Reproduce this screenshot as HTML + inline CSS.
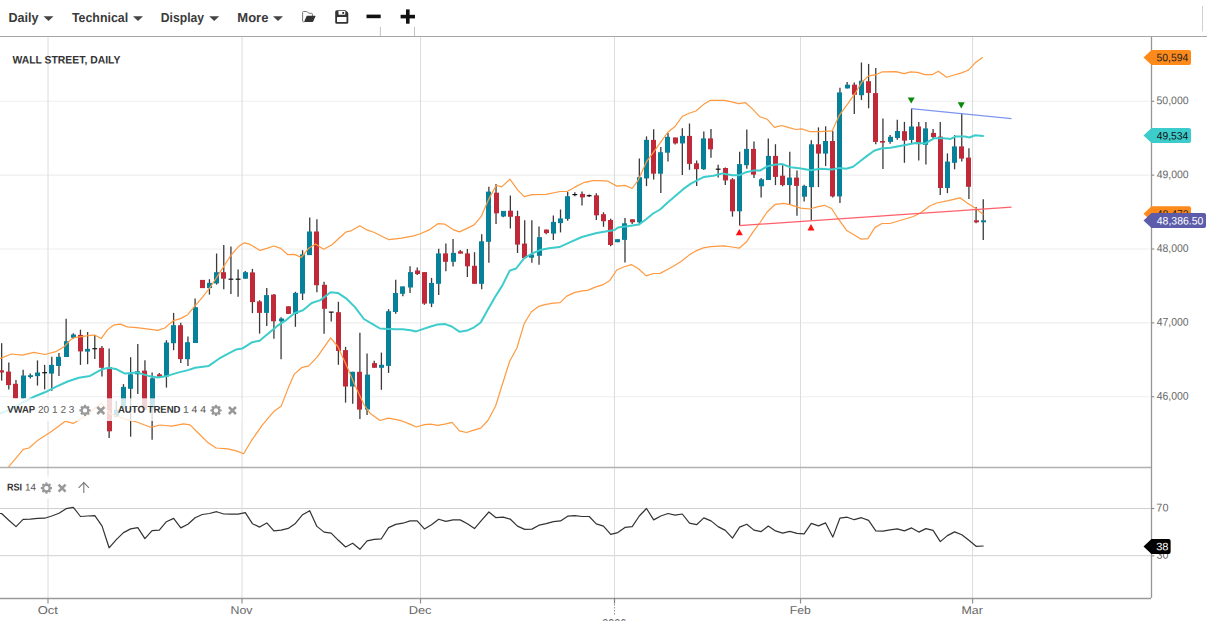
<!DOCTYPE html>
<html><head><meta charset="utf-8"><title>Wall Street Daily</title>
<style>html,body{margin:0;padding:0;background:#fff;}body{width:1207px;height:621px;overflow:hidden;position:relative;font-family:"Liberation Sans",sans-serif;}</style></head>
<body>
<svg width="1207" height="621" viewBox="0 0 1207 621" style="position:absolute;left:0;top:0">
<line x1="0" x2="1149.5" y1="101.3" y2="101.3" stroke="#eeeeee" stroke-width="1.1"/>
<line x1="0" x2="1149.5" y1="175.15" y2="175.15" stroke="#eeeeee" stroke-width="1.1"/>
<line x1="0" x2="1149.5" y1="249.0" y2="249.0" stroke="#eeeeee" stroke-width="1.1"/>
<line x1="0" x2="1149.5" y1="322.85" y2="322.85" stroke="#eeeeee" stroke-width="1.1"/>
<line x1="0" x2="1149.5" y1="396.7" y2="396.7" stroke="#eeeeee" stroke-width="1.1"/>
<line x1="0" x2="1151" y1="508.5" y2="508.5" stroke="#d0d0d0" stroke-width="1"/>
<line x1="0" x2="1151" y1="555.7" y2="555.7" stroke="#d0d0d0" stroke-width="1"/>
<line x1="48" x2="48" y1="37" y2="598" stroke="#dcdcdc" stroke-width="1"/>
<line x1="242" x2="242" y1="37" y2="598" stroke="#dcdcdc" stroke-width="1"/>
<line x1="420.5" x2="420.5" y1="37" y2="598" stroke="#dcdcdc" stroke-width="1"/>
<line x1="614.5" x2="614.5" y1="37" y2="598" stroke="#dcdcdc" stroke-width="1"/>
<line x1="800.5" x2="800.5" y1="37" y2="598" stroke="#dcdcdc" stroke-width="1"/>
<line x1="972.6" x2="972.6" y1="37" y2="598" stroke="#dcdcdc" stroke-width="1"/>
<g clip-path="url(#cp)">
<defs><clipPath id="cp"><rect x="0" y="37" width="1151" height="430"/></clipPath></defs>
<line x1="1.64" x2="1.64" y1="343.2" y2="380.6" stroke="#3a3a3a" stroke-width="1.3"/>
<rect x="-1" y="370.3" width="5" height="2.2" fill="#c02a38"/>
<line x1="8.81" x2="8.81" y1="362.4" y2="389.4" stroke="#3a3a3a" stroke-width="1.3"/>
<rect x="6" y="371.6" width="5" height="13.5" fill="#c02a38"/>
<line x1="15.97" x2="15.97" y1="380.0" y2="398.4" stroke="#3a3a3a" stroke-width="1.3"/>
<rect x="13" y="383.8" width="5" height="14.6" fill="#c02a38"/>
<line x1="23.14" x2="23.14" y1="369.8" y2="399.0" stroke="#3a3a3a" stroke-width="1.3"/>
<rect x="21" y="375.5" width="5" height="22.9" fill="#07819a"/>
<line x1="30.30" x2="30.30" y1="373.6" y2="378.4" stroke="#3a3a3a" stroke-width="1.3"/>
<rect x="28" y="375.2" width="5" height="1.8" fill="#07819a"/>
<line x1="37.47" x2="37.47" y1="360.4" y2="385.6" stroke="#3a3a3a" stroke-width="1.3"/>
<rect x="35" y="372.5" width="5" height="3.6" fill="#07819a"/>
<line x1="44.63" x2="44.63" y1="364.9" y2="389.4" stroke="#3a3a3a" stroke-width="1.3"/>
<line x1="42.23" x2="47.03" y1="372.7" y2="372.7" stroke="#111" stroke-width="1.2"/>
<line x1="51.80" x2="51.80" y1="356.8" y2="390.8" stroke="#3a3a3a" stroke-width="1.3"/>
<rect x="49" y="364.9" width="5" height="8.7" fill="#07819a"/>
<line x1="58.96" x2="58.96" y1="352.9" y2="376.1" stroke="#3a3a3a" stroke-width="1.3"/>
<rect x="56" y="356.8" width="5" height="9.2" fill="#07819a"/>
<line x1="66.13" x2="66.13" y1="318.7" y2="357.0" stroke="#3a3a3a" stroke-width="1.3"/>
<rect x="64" y="341.2" width="5" height="15.8" fill="#07819a"/>
<line x1="73.30" x2="73.30" y1="333.3" y2="338.7" stroke="#3a3a3a" stroke-width="1.3"/>
<rect x="71" y="334.5" width="5" height="3.3" fill="#07819a"/>
<line x1="80.46" x2="80.46" y1="329.7" y2="364.9" stroke="#3a3a3a" stroke-width="1.3"/>
<rect x="78" y="334.9" width="5" height="16.5" fill="#c02a38"/>
<line x1="87.62" x2="87.62" y1="332.0" y2="364.2" stroke="#3a3a3a" stroke-width="1.3"/>
<rect x="85" y="348.9" width="5" height="2.7" fill="#07819a"/>
<line x1="94.79" x2="94.79" y1="335.0" y2="359.0" stroke="#3a3a3a" stroke-width="1.3"/>
<line x1="92.39" x2="97.19" y1="348.7" y2="348.7" stroke="#111" stroke-width="1.2"/>
<line x1="101.95" x2="101.95" y1="346.0" y2="376.6" stroke="#3a3a3a" stroke-width="1.3"/>
<rect x="99" y="347.9" width="5" height="19.9" fill="#c02a38"/>
<line x1="109.12" x2="109.12" y1="348.6" y2="437.9" stroke="#3a3a3a" stroke-width="1.3"/>
<rect x="107" y="367.0" width="5" height="64.3" fill="#c02a38"/>
<line x1="116.28" x2="116.28" y1="401.0" y2="416.8" stroke="#3a3a3a" stroke-width="1.3"/>
<rect x="114" y="409.8" width="5" height="7.0" fill="#07819a"/>
<line x1="123.45" x2="123.45" y1="384.1" y2="410.0" stroke="#3a3a3a" stroke-width="1.3"/>
<rect x="121" y="386.9" width="5" height="21.7" fill="#07819a"/>
<line x1="130.62" x2="130.62" y1="357.2" y2="436.7" stroke="#3a3a3a" stroke-width="1.3"/>
<rect x="128" y="374.3" width="5" height="14.5" fill="#07819a"/>
<line x1="137.78" x2="137.78" y1="343.9" y2="393.9" stroke="#3a3a3a" stroke-width="1.3"/>
<rect x="135" y="371.3" width="5" height="3.0" fill="#07819a"/>
<line x1="144.94" x2="144.94" y1="360.3" y2="409.8" stroke="#3a3a3a" stroke-width="1.3"/>
<rect x="142" y="370.6" width="5" height="39.2" fill="#c02a38"/>
<line x1="152.11" x2="152.11" y1="372.4" y2="439.7" stroke="#3a3a3a" stroke-width="1.3"/>
<rect x="150" y="378.3" width="5" height="30.3" fill="#07819a"/>
<line x1="159.27" x2="159.27" y1="373.1" y2="377.1" stroke="#3a3a3a" stroke-width="1.3"/>
<rect x="157" y="374.3" width="5" height="2.3" fill="#c02a38"/>
<line x1="166.44" x2="166.44" y1="340.2" y2="387.6" stroke="#3a3a3a" stroke-width="1.3"/>
<rect x="164" y="342.5" width="5" height="34.1" fill="#07819a"/>
<line x1="173.61" x2="173.61" y1="312.9" y2="350.2" stroke="#3a3a3a" stroke-width="1.3"/>
<rect x="171" y="325.2" width="5" height="18.0" fill="#07819a"/>
<line x1="180.77" x2="180.77" y1="322.7" y2="363.1" stroke="#3a3a3a" stroke-width="1.3"/>
<rect x="178" y="325.2" width="5" height="33.9" fill="#c02a38"/>
<line x1="187.94" x2="187.94" y1="336.5" y2="366.0" stroke="#3a3a3a" stroke-width="1.3"/>
<rect x="185" y="342.2" width="5" height="17.0" fill="#07819a"/>
<line x1="195.10" x2="195.10" y1="298.6" y2="343.0" stroke="#3a3a3a" stroke-width="1.3"/>
<rect x="193" y="307.2" width="5" height="35.8" fill="#07819a"/>
<line x1="202.26" x2="202.26" y1="279.9" y2="288.1" stroke="#3a3a3a" stroke-width="1.3"/>
<rect x="200" y="279.9" width="5" height="8.2" fill="#c02a38"/>
<line x1="209.43" x2="209.43" y1="279.2" y2="294.6" stroke="#3a3a3a" stroke-width="1.3"/>
<rect x="207" y="282.9" width="5" height="5.2" fill="#07819a"/>
<line x1="216.59" x2="216.59" y1="253.5" y2="284.6" stroke="#3a3a3a" stroke-width="1.3"/>
<rect x="214" y="272.2" width="5" height="11.2" fill="#07819a"/>
<line x1="223.76" x2="223.76" y1="244.9" y2="289.3" stroke="#3a3a3a" stroke-width="1.3"/>
<rect x="221" y="272.2" width="5" height="6.5" fill="#c02a38"/>
<line x1="230.93" x2="230.93" y1="246.5" y2="293.9" stroke="#3a3a3a" stroke-width="1.3"/>
<line x1="228.53" x2="233.33" y1="279.2" y2="279.2" stroke="#111" stroke-width="1.2"/>
<line x1="238.09" x2="238.09" y1="269.4" y2="296.7" stroke="#3a3a3a" stroke-width="1.3"/>
<line x1="235.69" x2="240.49" y1="279.2" y2="279.2" stroke="#111" stroke-width="1.2"/>
<line x1="245.25" x2="245.25" y1="271.0" y2="278.7" stroke="#3a3a3a" stroke-width="1.3"/>
<rect x="243" y="272.2" width="5" height="6.5" fill="#07819a"/>
<line x1="252.42" x2="252.42" y1="268.9" y2="313.1" stroke="#3a3a3a" stroke-width="1.3"/>
<rect x="250" y="272.4" width="5" height="29.7" fill="#c02a38"/>
<line x1="259.58" x2="259.58" y1="300.2" y2="333.6" stroke="#3a3a3a" stroke-width="1.3"/>
<rect x="257" y="301.4" width="5" height="11.5" fill="#c02a38"/>
<line x1="266.75" x2="266.75" y1="288.1" y2="325.9" stroke="#3a3a3a" stroke-width="1.3"/>
<rect x="264" y="295.1" width="5" height="17.8" fill="#07819a"/>
<line x1="273.92" x2="273.92" y1="293.9" y2="338.8" stroke="#3a3a3a" stroke-width="1.3"/>
<rect x="271" y="294.6" width="5" height="26.7" fill="#c02a38"/>
<line x1="281.08" x2="281.08" y1="317.3" y2="359.3" stroke="#3a3a3a" stroke-width="1.3"/>
<rect x="279" y="318.5" width="5" height="2.8" fill="#07819a"/>
<line x1="288.25" x2="288.25" y1="306.3" y2="313.9" stroke="#3a3a3a" stroke-width="1.3"/>
<rect x="286" y="306.3" width="5" height="7.6" fill="#c02a38"/>
<line x1="295.41" x2="295.41" y1="291.8" y2="326.8" stroke="#3a3a3a" stroke-width="1.3"/>
<rect x="293" y="292.9" width="5" height="21.1" fill="#07819a"/>
<line x1="302.57" x2="302.57" y1="250.2" y2="300.0" stroke="#3a3a3a" stroke-width="1.3"/>
<rect x="300" y="254.4" width="5" height="39.2" fill="#07819a"/>
<line x1="309.74" x2="309.74" y1="217.5" y2="255.1" stroke="#3a3a3a" stroke-width="1.3"/>
<rect x="307" y="231.5" width="5" height="23.6" fill="#07819a"/>
<line x1="316.91" x2="316.91" y1="219.3" y2="292.2" stroke="#3a3a3a" stroke-width="1.3"/>
<rect x="314" y="231.5" width="5" height="53.7" fill="#c02a38"/>
<line x1="324.07" x2="324.07" y1="281.7" y2="333.8" stroke="#3a3a3a" stroke-width="1.3"/>
<rect x="322" y="284.8" width="5" height="24.0" fill="#c02a38"/>
<line x1="331.24" x2="331.24" y1="312.1" y2="321.6" stroke="#3a3a3a" stroke-width="1.3"/>
<line x1="328.84" x2="333.63" y1="312.1" y2="312.1" stroke="#111" stroke-width="1.2"/>
<line x1="338.40" x2="338.40" y1="301.8" y2="364.8" stroke="#3a3a3a" stroke-width="1.3"/>
<rect x="336" y="312.2" width="5" height="38.7" fill="#c02a38"/>
<line x1="345.56" x2="345.56" y1="346.8" y2="402.6" stroke="#3a3a3a" stroke-width="1.3"/>
<rect x="343" y="350.1" width="5" height="36.4" fill="#c02a38"/>
<line x1="352.73" x2="352.73" y1="371.8" y2="403.8" stroke="#3a3a3a" stroke-width="1.3"/>
<rect x="350" y="371.8" width="5" height="14.7" fill="#07819a"/>
<line x1="359.90" x2="359.90" y1="332.8" y2="419.0" stroke="#3a3a3a" stroke-width="1.3"/>
<rect x="357" y="371.8" width="5" height="37.8" fill="#c02a38"/>
<line x1="367.06" x2="367.06" y1="353.6" y2="415.0" stroke="#3a3a3a" stroke-width="1.3"/>
<rect x="365" y="374.6" width="5" height="35.0" fill="#07819a"/>
<line x1="374.23" x2="374.23" y1="360.8" y2="367.8" stroke="#3a3a3a" stroke-width="1.3"/>
<rect x="372" y="363.1" width="5" height="4.7" fill="#c02a38"/>
<line x1="381.39" x2="381.39" y1="352.6" y2="389.8" stroke="#3a3a3a" stroke-width="1.3"/>
<rect x="379" y="364.8" width="5" height="3.0" fill="#07819a"/>
<line x1="388.56" x2="388.56" y1="309.2" y2="372.9" stroke="#3a3a3a" stroke-width="1.3"/>
<rect x="386" y="311.2" width="5" height="54.7" fill="#07819a"/>
<line x1="395.72" x2="395.72" y1="279.8" y2="313.7" stroke="#3a3a3a" stroke-width="1.3"/>
<rect x="393" y="293.0" width="5" height="19.0" fill="#07819a"/>
<line x1="402.88" x2="402.88" y1="286.4" y2="296.2" stroke="#3a3a3a" stroke-width="1.3"/>
<rect x="400" y="286.4" width="5" height="7.4" fill="#07819a"/>
<line x1="410.05" x2="410.05" y1="266.3" y2="293.1" stroke="#3a3a3a" stroke-width="1.3"/>
<rect x="408" y="272.1" width="5" height="15.4" fill="#07819a"/>
<line x1="417.22" x2="417.22" y1="267.4" y2="275.1" stroke="#3a3a3a" stroke-width="1.3"/>
<rect x="415" y="270.5" width="5" height="3.5" fill="#c02a38"/>
<line x1="424.38" x2="424.38" y1="272.1" y2="304.8" stroke="#3a3a3a" stroke-width="1.3"/>
<rect x="422" y="272.1" width="5" height="31.5" fill="#c02a38"/>
<line x1="431.55" x2="431.55" y1="277.9" y2="307.1" stroke="#3a3a3a" stroke-width="1.3"/>
<rect x="429" y="282.9" width="5" height="20.7" fill="#07819a"/>
<line x1="438.71" x2="438.71" y1="248.7" y2="295.0" stroke="#3a3a3a" stroke-width="1.3"/>
<rect x="436" y="253.4" width="5" height="30.4" fill="#07819a"/>
<line x1="445.88" x2="445.88" y1="243.6" y2="271.2" stroke="#3a3a3a" stroke-width="1.3"/>
<rect x="443" y="253.4" width="5" height="8.4" fill="#c02a38"/>
<line x1="453.04" x2="453.04" y1="238.9" y2="266.5" stroke="#3a3a3a" stroke-width="1.3"/>
<rect x="451" y="252.9" width="5" height="8.9" fill="#07819a"/>
<line x1="460.21" x2="460.21" y1="250.1" y2="253.6" stroke="#3a3a3a" stroke-width="1.3"/>
<rect x="458" y="251.3" width="5" height="2.3" fill="#c02a38"/>
<line x1="467.37" x2="467.37" y1="249.0" y2="277.0" stroke="#3a3a3a" stroke-width="1.3"/>
<rect x="465" y="253.4" width="5" height="12.9" fill="#c02a38"/>
<line x1="474.54" x2="474.54" y1="252.2" y2="283.8" stroke="#3a3a3a" stroke-width="1.3"/>
<rect x="472" y="265.8" width="5" height="18.0" fill="#c02a38"/>
<line x1="481.70" x2="481.70" y1="234.3" y2="289.2" stroke="#3a3a3a" stroke-width="1.3"/>
<rect x="479" y="241.3" width="5" height="42.5" fill="#07819a"/>
<line x1="488.87" x2="488.87" y1="186.8" y2="262.8" stroke="#3a3a3a" stroke-width="1.3"/>
<rect x="486" y="191.6" width="5" height="50.2" fill="#07819a"/>
<line x1="496.03" x2="496.03" y1="184.0" y2="223.9" stroke="#3a3a3a" stroke-width="1.3"/>
<rect x="494" y="192.7" width="5" height="20.6" fill="#c02a38"/>
<line x1="503.19" x2="503.19" y1="210.9" y2="217.2" stroke="#3a3a3a" stroke-width="1.3"/>
<rect x="501" y="210.9" width="5" height="5.6" fill="#07819a"/>
<line x1="510.36" x2="510.36" y1="195.5" y2="228.5" stroke="#3a3a3a" stroke-width="1.3"/>
<rect x="508" y="210.7" width="5" height="6.1" fill="#c02a38"/>
<line x1="517.52" x2="517.52" y1="210.7" y2="253.0" stroke="#3a3a3a" stroke-width="1.3"/>
<rect x="515" y="216.1" width="5" height="28.5" fill="#c02a38"/>
<line x1="524.69" x2="524.69" y1="220.3" y2="258.1" stroke="#3a3a3a" stroke-width="1.3"/>
<rect x="522" y="243.6" width="5" height="14.5" fill="#c02a38"/>
<line x1="531.86" x2="531.86" y1="220.3" y2="262.8" stroke="#3a3a3a" stroke-width="1.3"/>
<rect x="529" y="254.6" width="5" height="3.1" fill="#07819a"/>
<line x1="539.02" x2="539.02" y1="226.6" y2="264.7" stroke="#3a3a3a" stroke-width="1.3"/>
<rect x="537" y="237.1" width="5" height="18.7" fill="#07819a"/>
<line x1="546.18" x2="546.18" y1="229.6" y2="234.3" stroke="#3a3a3a" stroke-width="1.3"/>
<rect x="544" y="229.6" width="5" height="3.5" fill="#c02a38"/>
<line x1="553.35" x2="553.35" y1="215.4" y2="239.9" stroke="#3a3a3a" stroke-width="1.3"/>
<rect x="551" y="221.9" width="5" height="11.7" fill="#07819a"/>
<line x1="560.51" x2="560.51" y1="209.5" y2="232.4" stroke="#3a3a3a" stroke-width="1.3"/>
<rect x="558" y="218.4" width="5" height="4.7" fill="#07819a"/>
<line x1="567.68" x2="567.68" y1="192.0" y2="220.7" stroke="#3a3a3a" stroke-width="1.3"/>
<rect x="565" y="196.2" width="5" height="22.7" fill="#07819a"/>
<line x1="574.84" x2="574.84" y1="192.2" y2="196.2" stroke="#3a3a3a" stroke-width="1.3"/>
<line x1="572.44" x2="577.24" y1="194.6" y2="194.6" stroke="#111" stroke-width="1.2"/>
<line x1="582.01" x2="582.01" y1="191.5" y2="205.6" stroke="#3a3a3a" stroke-width="1.3"/>
<rect x="580" y="193.9" width="5" height="3.5" fill="#c02a38"/>
<line x1="589.17" x2="589.17" y1="194.6" y2="196.9" stroke="#3a3a3a" stroke-width="1.3"/>
<line x1="586.77" x2="591.57" y1="195.7" y2="195.7" stroke="#111" stroke-width="1.2"/>
<line x1="596.34" x2="596.34" y1="193.2" y2="220.1" stroke="#3a3a3a" stroke-width="1.3"/>
<rect x="594" y="195.3" width="5" height="20.0" fill="#c02a38"/>
<line x1="603.50" x2="603.50" y1="212.3" y2="226.8" stroke="#3a3a3a" stroke-width="1.3"/>
<rect x="601" y="214.2" width="5" height="7.0" fill="#c02a38"/>
<line x1="610.67" x2="610.67" y1="218.8" y2="246.2" stroke="#3a3a3a" stroke-width="1.3"/>
<rect x="608" y="220.0" width="5" height="25.0" fill="#c02a38"/>
<line x1="617.83" x2="617.83" y1="239.2" y2="242.2" stroke="#3a3a3a" stroke-width="1.3"/>
<rect x="615" y="239.2" width="5" height="3.0" fill="#07819a"/>
<line x1="625.00" x2="625.00" y1="218.1" y2="262.5" stroke="#3a3a3a" stroke-width="1.3"/>
<rect x="622" y="223.3" width="5" height="16.6" fill="#07819a"/>
<line x1="632.16" x2="632.16" y1="219.3" y2="224.0" stroke="#3a3a3a" stroke-width="1.3"/>
<rect x="630" y="219.3" width="5" height="3.0" fill="#c02a38"/>
<line x1="639.33" x2="639.33" y1="158.6" y2="224.0" stroke="#3a3a3a" stroke-width="1.3"/>
<rect x="637" y="177.2" width="5" height="45.1" fill="#07819a"/>
<line x1="646.50" x2="646.50" y1="136.4" y2="186.1" stroke="#3a3a3a" stroke-width="1.3"/>
<rect x="644" y="139.9" width="5" height="38.5" fill="#07819a"/>
<line x1="653.66" x2="653.66" y1="129.3" y2="179.6" stroke="#3a3a3a" stroke-width="1.3"/>
<rect x="651" y="139.9" width="5" height="33.8" fill="#c02a38"/>
<line x1="660.82" x2="660.82" y1="146.9" y2="192.9" stroke="#3a3a3a" stroke-width="1.3"/>
<rect x="658" y="152.2" width="5" height="21.5" fill="#07819a"/>
<line x1="667.99" x2="667.99" y1="132.9" y2="161.6" stroke="#3a3a3a" stroke-width="1.3"/>
<rect x="665" y="136.8" width="5" height="15.9" fill="#07819a"/>
<line x1="675.15" x2="675.15" y1="137.5" y2="144.5" stroke="#3a3a3a" stroke-width="1.3"/>
<rect x="673" y="137.5" width="5" height="5.9" fill="#c02a38"/>
<line x1="682.32" x2="682.32" y1="128.2" y2="174.9" stroke="#3a3a3a" stroke-width="1.3"/>
<rect x="680" y="135.9" width="5" height="7.5" fill="#07819a"/>
<line x1="689.49" x2="689.49" y1="123.5" y2="169.8" stroke="#3a3a3a" stroke-width="1.3"/>
<rect x="687" y="135.9" width="5" height="28.0" fill="#c02a38"/>
<line x1="696.65" x2="696.65" y1="160.4" y2="186.1" stroke="#3a3a3a" stroke-width="1.3"/>
<rect x="694" y="163.3" width="5" height="5.9" fill="#c02a38"/>
<line x1="703.81" x2="703.81" y1="131.4" y2="169.9" stroke="#3a3a3a" stroke-width="1.3"/>
<rect x="701" y="138.4" width="5" height="30.8" fill="#07819a"/>
<line x1="710.98" x2="710.98" y1="129.0" y2="157.8" stroke="#3a3a3a" stroke-width="1.3"/>
<rect x="708" y="138.4" width="5" height="10.9" fill="#c02a38"/>
<line x1="718.14" x2="718.14" y1="164.8" y2="177.6" stroke="#3a3a3a" stroke-width="1.3"/>
<line x1="715.75" x2="720.54" y1="169.2" y2="169.2" stroke="#111" stroke-width="1.2"/>
<line x1="725.31" x2="725.31" y1="167.6" y2="185.1" stroke="#3a3a3a" stroke-width="1.3"/>
<rect x="723" y="168.0" width="5" height="12.4" fill="#c02a38"/>
<line x1="732.47" x2="732.47" y1="178.1" y2="216.6" stroke="#3a3a3a" stroke-width="1.3"/>
<rect x="730" y="179.3" width="5" height="32.0" fill="#c02a38"/>
<line x1="739.64" x2="739.64" y1="151.7" y2="225.3" stroke="#3a3a3a" stroke-width="1.3"/>
<rect x="737" y="164.1" width="5" height="47.2" fill="#07819a"/>
<line x1="746.80" x2="746.80" y1="129.5" y2="168.7" stroke="#3a3a3a" stroke-width="1.3"/>
<rect x="744" y="148.9" width="5" height="16.3" fill="#07819a"/>
<line x1="753.97" x2="753.97" y1="141.4" y2="178.1" stroke="#3a3a3a" stroke-width="1.3"/>
<rect x="751" y="148.9" width="5" height="25.7" fill="#c02a38"/>
<line x1="761.13" x2="761.13" y1="178.1" y2="197.5" stroke="#3a3a3a" stroke-width="1.3"/>
<rect x="759" y="179.3" width="5" height="7.0" fill="#07819a"/>
<line x1="768.30" x2="768.30" y1="138.4" y2="180.0" stroke="#3a3a3a" stroke-width="1.3"/>
<rect x="766" y="155.9" width="5" height="24.1" fill="#07819a"/>
<line x1="775.46" x2="775.46" y1="144.2" y2="185.1" stroke="#3a3a3a" stroke-width="1.3"/>
<rect x="773" y="155.9" width="5" height="21.0" fill="#c02a38"/>
<line x1="782.63" x2="782.63" y1="165.2" y2="186.3" stroke="#3a3a3a" stroke-width="1.3"/>
<rect x="780" y="175.7" width="5" height="9.4" fill="#c02a38"/>
<line x1="789.79" x2="789.79" y1="151.7" y2="205.0" stroke="#3a3a3a" stroke-width="1.3"/>
<rect x="787" y="177.6" width="5" height="7.5" fill="#07819a"/>
<line x1="796.96" x2="796.96" y1="170.5" y2="215.7" stroke="#3a3a3a" stroke-width="1.3"/>
<rect x="794" y="177.6" width="5" height="8.3" fill="#c02a38"/>
<line x1="804.12" x2="804.12" y1="184.8" y2="201.4" stroke="#3a3a3a" stroke-width="1.3"/>
<rect x="802" y="185.9" width="5" height="10.8" fill="#07819a"/>
<line x1="811.29" x2="811.29" y1="140.3" y2="220.3" stroke="#3a3a3a" stroke-width="1.3"/>
<rect x="809" y="144.3" width="5" height="42.8" fill="#07819a"/>
<line x1="818.45" x2="818.45" y1="127.4" y2="187.1" stroke="#3a3a3a" stroke-width="1.3"/>
<rect x="816" y="144.3" width="5" height="9.3" fill="#c02a38"/>
<line x1="825.62" x2="825.62" y1="126.3" y2="166.1" stroke="#3a3a3a" stroke-width="1.3"/>
<rect x="823" y="141.0" width="5" height="12.6" fill="#07819a"/>
<line x1="832.78" x2="832.78" y1="130.9" y2="197.5" stroke="#3a3a3a" stroke-width="1.3"/>
<rect x="830" y="141.0" width="5" height="55.4" fill="#c02a38"/>
<line x1="839.95" x2="839.95" y1="87.7" y2="203.1" stroke="#3a3a3a" stroke-width="1.3"/>
<rect x="837" y="92.4" width="5" height="104.0" fill="#07819a"/>
<line x1="847.12" x2="847.12" y1="81.9" y2="88.4" stroke="#3a3a3a" stroke-width="1.3"/>
<rect x="845" y="84.7" width="5" height="3.7" fill="#07819a"/>
<line x1="854.28" x2="854.28" y1="82.6" y2="114.1" stroke="#3a3a3a" stroke-width="1.3"/>
<rect x="852" y="84.7" width="5" height="10.0" fill="#c02a38"/>
<line x1="861.44" x2="861.44" y1="62.5" y2="99.9" stroke="#3a3a3a" stroke-width="1.3"/>
<rect x="859" y="80.7" width="5" height="14.5" fill="#07819a"/>
<line x1="868.61" x2="868.61" y1="63.9" y2="108.3" stroke="#3a3a3a" stroke-width="1.3"/>
<rect x="866" y="81.2" width="5" height="11.7" fill="#c02a38"/>
<line x1="875.77" x2="875.77" y1="67.9" y2="144.3" stroke="#3a3a3a" stroke-width="1.3"/>
<rect x="873" y="93.1" width="5" height="48.8" fill="#c02a38"/>
<line x1="882.94" x2="882.94" y1="118.6" y2="169.0" stroke="#3a3a3a" stroke-width="1.3"/>
<rect x="880" y="141.0" width="5" height="1.6" fill="#c02a38"/>
<line x1="890.10" x2="890.10" y1="134.9" y2="143.8" stroke="#3a3a3a" stroke-width="1.3"/>
<rect x="888" y="136.8" width="5" height="5.1" fill="#07819a"/>
<line x1="897.27" x2="897.27" y1="119.7" y2="139.7" stroke="#3a3a3a" stroke-width="1.3"/>
<rect x="895" y="131.0" width="5" height="7.0" fill="#07819a"/>
<line x1="904.43" x2="904.43" y1="121.9" y2="162.8" stroke="#3a3a3a" stroke-width="1.3"/>
<rect x="902" y="131.2" width="5" height="9.4" fill="#c02a38"/>
<line x1="911.60" x2="911.60" y1="108.6" y2="143.6" stroke="#3a3a3a" stroke-width="1.3"/>
<rect x="909" y="126.5" width="5" height="13.4" fill="#07819a"/>
<line x1="918.76" x2="918.76" y1="121.9" y2="160.4" stroke="#3a3a3a" stroke-width="1.3"/>
<rect x="916" y="126.5" width="5" height="17.6" fill="#c02a38"/>
<line x1="925.93" x2="925.93" y1="121.9" y2="164.6" stroke="#3a3a3a" stroke-width="1.3"/>
<rect x="923" y="128.4" width="5" height="16.4" fill="#07819a"/>
<line x1="933.09" x2="933.09" y1="128.9" y2="138.2" stroke="#3a3a3a" stroke-width="1.3"/>
<rect x="931" y="132.9" width="5" height="4.2" fill="#c02a38"/>
<line x1="940.26" x2="940.26" y1="121.9" y2="195.0" stroke="#3a3a3a" stroke-width="1.3"/>
<rect x="938" y="136.6" width="5" height="51.4" fill="#c02a38"/>
<line x1="947.42" x2="947.42" y1="153.4" y2="193.1" stroke="#3a3a3a" stroke-width="1.3"/>
<rect x="945" y="161.6" width="5" height="26.4" fill="#07819a"/>
<line x1="954.59" x2="954.59" y1="135.2" y2="169.3" stroke="#3a3a3a" stroke-width="1.3"/>
<rect x="952" y="146.4" width="5" height="16.4" fill="#07819a"/>
<line x1="961.75" x2="961.75" y1="113.2" y2="161.6" stroke="#3a3a3a" stroke-width="1.3"/>
<rect x="959" y="146.4" width="5" height="12.2" fill="#c02a38"/>
<line x1="968.92" x2="968.92" y1="148.3" y2="199.0" stroke="#3a3a3a" stroke-width="1.3"/>
<rect x="966" y="157.6" width="5" height="29.2" fill="#c02a38"/>
<line x1="976.08" x2="976.08" y1="207.1" y2="223.2" stroke="#3a3a3a" stroke-width="1.3"/>
<rect x="974" y="220.3" width="5" height="2.0" fill="#c02a38"/>
<line x1="983.25" x2="983.25" y1="199.3" y2="239.9" stroke="#3a3a3a" stroke-width="1.3"/>
<rect x="981" y="220.3" width="5" height="2.0" fill="#07819a"/>
<polyline points="-3.0,359.6 0.0,358.6 11.3,354.0 22.5,355.2 33.8,352.3 45.0,354.5 56.6,351.3 63.7,347.1 70.8,339.7 74.0,337.7 85.0,336.1 92.3,335.2 94.7,335.0 101.2,338.6 107.5,329.9 113.4,325.2 120.4,324.1 127.4,326.9 136.7,327.6 148.4,329.2 157.8,330.4 164.8,328.0 170.0,323.4 173.5,320.7 180.6,318.6 187.7,314.7 194.8,306.2 201.9,297.8 209.3,288.5 216.4,277.8 223.5,266.8 230.6,255.7 238.2,246.8 244.4,242.8 249.7,244.2 260.0,250.4 266.8,248.4 273.8,246.0 280.8,248.4 287.8,254.7 294.3,254.4 301.4,257.4 308.4,248.6 315.4,243.9 323.6,249.3 331.7,245.0 338.7,238.5 345.7,232.2 351.6,230.6 359.8,225.7 366.8,229.9 373.8,232.2 380.8,235.7 389.0,239.7 401.7,238.2 413.4,235.9 420.4,233.8 429.7,229.6 437.9,223.7 444.9,224.2 453.1,229.6 459.4,231.9 467.1,228.4 474.1,224.9 481.1,216.7 488.1,200.4 496.3,185.2 501.7,186.9 509.9,179.2 518.0,190.4 524.3,196.7 532.1,194.6 546.1,194.3 560.1,191.5 567.1,191.5 575.3,186.9 583.5,182.7 592.8,180.6 600.0,180.6 608.0,181.2 616.9,186.1 625.0,185.4 632.1,188.5 637.9,180.7 643.0,169.5 646.7,161.3 653.4,152.3 660.9,141.9 667.6,132.5 675.0,126.5 682.5,116.2 689.2,113.3 695.9,111.0 703.4,104.6 710.4,100.3 717.5,100.3 724.3,100.3 731.7,101.8 738.4,103.6 745.6,102.7 752.6,109.1 760.0,116.8 767.1,119.2 774.5,127.4 781.7,125.5 789.1,127.7 795.8,129.5 801.8,128.9 810.0,131.7 820.0,131.7 832.1,130.9 839.1,115.7 847.5,104.1 854.9,93.7 861.6,82.5 868.3,76.1 875.8,74.7 882.5,71.8 895.9,71.6 904.1,73.6 910.8,71.8 917.5,72.4 925.0,74.6 932.5,74.6 938.4,71.3 946.6,77.3 953.3,75.3 960.8,73.1 968.2,70.3 975.0,63.1 982.4,57.6" fill="none" stroke="#ff9a40" stroke-width="1.2" stroke-linejoin="round" stroke-linecap="round" />
<polyline points="8.7,466.8 23.2,449.4 29.0,448.0 38.3,439.9 51.8,431.3 65.3,421.2 73.2,423.4 85.6,416.0 92.3,410.3 101.4,403.1 106.6,409.0 110.0,413.5 114.5,415.0 125.0,419.2 136.7,422.0 150.7,427.3 160.1,425.0 171.8,426.2 183.5,423.8 190.0,424.8 198.7,433.5 207.4,442.2 216.1,448.0 227.7,448.8 236.4,450.9 243.6,453.8 252.3,439.3 262.5,424.8 274.1,411.2 281.3,405.9 288.6,387.1 294.3,374.1 301.6,367.7 308.8,365.9 317.5,356.7 330.6,337.8 337.8,346.5 346.5,365.4 355.2,385.7 363.9,404.5 370.0,413.2 380.1,420.5 388.1,418.1 395.4,419.3 402.6,421.2 409.9,424.1 416.4,427.0 424.4,424.6 430.4,424.1 437.7,425.3 444.9,424.1 452.1,422.4 459.4,430.9 466.6,432.5 473.9,430.1 480.7,428.2 487.9,420.5 495.6,406.0 502.4,384.2 509.7,361.3 516.9,348.0 524.1,323.8 531.4,311.7 538.6,306.4 546.0,304.3 553.4,303.1 560.1,302.6 566.8,296.1 574.3,292.6 581.8,290.8 587.7,290.4 595.2,287.1 602.6,284.9 609.8,280.4 616.8,270.0 624.3,266.8 631.4,264.6 638.4,268.8 646.2,275.9 653.3,273.5 660.0,273.4 667.5,269.5 674.2,265.8 681.7,261.0 689.1,255.1 696.6,250.6 703.3,247.9 710.7,246.7 720.0,246.1 724.0,245.8 732.0,247.0 739.1,248.2 746.1,242.3 753.1,231.8 760.1,222.5 767.1,212.0 775.3,204.3 783.5,203.3 790.0,204.6 800.6,208.1 809.5,209.0 818.3,206.7 824.5,205.3 831.6,208.5 837.8,218.2 846.7,230.6 860.9,239.1 867.9,238.6 875.0,227.4 882.1,223.5 890.0,223.5 901.7,220.0 913.4,216.5 920.4,213.0 929.7,206.0 936.7,203.0 948.4,200.6 960.1,197.8 967.1,203.0 975.5,208.3 983.0,214.2" fill="none" stroke="#ff9a40" stroke-width="1.2" stroke-linejoin="round" stroke-linecap="round" />
<polyline points="-3.0,415.0 0.0,413.7 11.3,408.8 22.5,402.5 33.8,396.8 45.0,392.3 56.3,386.7 67.6,381.5 78.8,377.7 90.0,375.9 101.7,369.4 108.7,367.8 115.7,368.9 125.0,373.6 136.7,372.4 148.4,375.9 157.8,377.6 167.1,375.9 178.8,372.4 188.1,370.1 195.1,367.8 208.8,365.9 219.0,358.7 227.7,353.8 236.4,349.4 242.2,348.6 252.3,342.2 259.6,340.7 268.3,333.5 277.0,326.2 285.7,320.4 294.3,313.2 303.0,310.3 311.7,303.0 320.4,300.1 330.6,292.3 337.8,292.9 346.5,298.7 355.2,307.4 363.9,319.0 372.6,324.2 380.0,328.5 388.1,328.9 396.1,329.3 402.6,329.3 410.6,330.2 416.2,331.4 423.5,328.9 430.7,326.5 438.0,324.4 445.2,324.1 451.7,326.5 459.7,331.8 467.0,330.6 474.2,327.3 480.7,322.5 487.9,309.6 495.2,296.7 502.4,285.4 509.7,270.6 516.1,268.5 524.3,258.1 532.1,253.5 540.0,250.1 548.9,248.2 559.4,247.1 569.8,242.4 581.8,237.0 596.7,233.0 607.1,231.2 614.6,230.0 618.0,227.5 627.4,226.3 639.1,224.4 646.1,219.3 653.1,213.5 660.1,209.5 667.1,202.9 674.1,197.1 683.5,188.9 690.5,183.9 697.0,180.4 704.0,176.9 713.4,175.7 722.7,173.4 732.1,175.3 739.1,175.3 746.1,172.2 753.1,170.6 760.1,170.6 767.1,166.4 774.1,164.8 782.3,164.1 790.5,167.3 799.3,168.3 811.0,170.2 820.4,168.8 832.1,169.5 839.1,167.9 846.1,168.8 853.1,166.7 860.1,161.3 867.1,155.9 874.1,150.8 881.1,148.5 890.5,147.7 904.0,145.2 915.7,142.9 925.0,143.6 934.4,138.2 943.7,138.2 950.7,138.9 955.4,136.6 964.8,136.6 969.4,137.5 975.3,135.2 983.0,135.9" fill="none" stroke="#3dcccc" stroke-width="2.0" stroke-linejoin="round" stroke-linecap="round" />
<line x1="739.3" y1="225.6" x2="1011.5" y2="207.2" stroke="#ff5f6b" stroke-width="1.2"/>
<line x1="911" y1="108.6" x2="1011.5" y2="118.6" stroke="#7d96ee" stroke-width="1.1"/>
<polygon points="739.3,229 735.8,235.3 742.8,235.3" fill="#ff1111"/>
<polygon points="811,224 807.5,230.6 814.5,230.6" fill="#ff1111"/>
<polygon points="907.7,97.4 914.7,97.4 911.2,103.6" fill="#0a8a0a"/>
<polygon points="957.7,102.3 964.7,102.3 961.2,108.6" fill="#0a8a0a"/>
<rect x="0" y="398.3" width="241.5" height="22.7" fill="#fff" fill-opacity="0.8"/>
</g>
<rect x="0" y="476.5" width="93" height="22.5" fill="#fff" fill-opacity="0.85"/>
<polyline points="-4.0,513.5 1.6,513.5 8.8,520.2 16.0,526.6 23.1,519.4 30.3,519.2 37.5,518.4 44.6,518.2 51.8,516.0 59.0,513.2 66.1,508.7 73.3,507.3 80.5,516.5 87.6,516.0 94.8,515.7 102.0,525.9 109.1,547.8 116.3,539.6 123.5,532.6 130.6,528.9 137.8,527.6 144.9,538.6 152.1,530.6 159.3,530.1 166.4,521.7 173.6,518.4 180.8,527.9 187.9,524.2 195.1,517.7 202.3,514.5 209.4,513.5 216.6,511.7 223.8,514.0 230.9,514.2 238.1,514.2 245.3,512.7 252.4,523.7 259.6,527.1 266.8,522.9 273.9,530.9 281.1,530.1 288.2,528.4 295.4,523.4 302.6,514.7 309.7,510.7 316.9,526.4 324.1,532.1 331.2,533.1 338.4,540.3 345.6,547.0 352.7,543.3 359.9,549.3 367.1,540.8 374.2,539.3 381.4,538.8 388.6,527.6 395.7,524.4 402.9,523.2 410.1,520.9 417.2,520.9 424.4,528.9 431.5,524.7 438.7,519.2 445.9,521.4 453.0,519.9 460.2,519.9 467.4,523.7 474.5,528.6 481.7,520.2 488.9,512.0 496.0,517.7 503.2,517.2 510.4,519.2 517.5,526.1 524.7,529.4 531.9,529.1 539.0,525.2 546.2,523.7 553.4,521.7 560.5,520.9 567.7,516.2 574.8,515.7 582.0,516.5 589.2,516.5 596.3,523.9 603.5,526.1 610.7,534.4 617.8,532.6 625.0,527.4 632.2,526.6 639.3,516.0 646.5,508.5 653.7,519.9 660.8,516.0 668.0,513.5 675.2,515.2 682.3,514.0 689.5,523.2 696.6,524.7 703.8,517.9 711.0,520.9 718.1,526.6 725.3,530.4 732.5,538.1 739.6,527.1 746.8,524.2 754.0,530.1 761.1,531.6 768.3,526.1 775.5,530.9 782.6,533.1 789.8,531.4 797.0,533.4 804.1,533.9 811.3,523.4 818.5,525.9 825.6,522.9 832.8,537.1 839.9,518.2 847.1,517.2 854.3,519.7 861.4,517.7 868.6,520.4 875.8,530.9 882.9,531.1 890.1,529.9 897.3,528.9 904.4,530.9 911.6,527.9 918.8,532.1 925.9,528.6 933.1,530.4 940.3,541.6 947.4,535.6 954.6,531.9 961.8,534.8 968.9,540.3 976.1,546.3 983.2,546.0" fill="none" stroke="#333" stroke-width="1.2" stroke-linejoin="round" stroke-linecap="round" />
<line x1="0" x2="1151.5" y1="467.6" y2="467.6" stroke="#b0b0b0" stroke-width="1.5"/>
<line x1="0" x2="1151" y1="598.5" y2="598.5" stroke="#9a9a9a" stroke-width="1.3"/>
<line x1="1151.5" x2="1151.5" y1="36" y2="598" stroke="#969696" stroke-width="1.3"/>
<line x1="0" x2="1207" y1="36.5" y2="36.5" stroke="#a6a6a6" stroke-width="1.1"/>
<line x1="380.4" x2="380.4" y1="26.7" y2="36" stroke="#c4c4c4" stroke-width="1"/>
<line x1="414.5" x2="414.5" y1="26.7" y2="36" stroke="#c4c4c4" stroke-width="1"/>
<line x1="1202.5" x2="1202.5" y1="6" y2="31.5" stroke="#d0d0d0" stroke-width="1"/>
<line x1="1151" x2="1154.3" y1="101.3" y2="101.3" stroke="#8c8c8c" stroke-width="1.1"/>
<text transform="translate(1156.48,104.30) rotate(0.03) scale(1.0503,1.1299)" font-family="Liberation Sans, sans-serif" font-size="10" fill="#666">50,000</text>
<line x1="1151" x2="1154.3" y1="175.14999999999998" y2="175.14999999999998" stroke="#8c8c8c" stroke-width="1.1"/>
<text transform="translate(1156.67,178.15) rotate(0.03) scale(1.0442,1.1299)" font-family="Liberation Sans, sans-serif" font-size="10" fill="#666">49,000</text>
<line x1="1151" x2="1154.3" y1="249.0" y2="249.0" stroke="#8c8c8c" stroke-width="1.1"/>
<text transform="translate(1156.67,252.00) rotate(0.03) scale(1.0442,1.1299)" font-family="Liberation Sans, sans-serif" font-size="10" fill="#666">48,000</text>
<line x1="1151" x2="1154.3" y1="322.84999999999997" y2="322.84999999999997" stroke="#8c8c8c" stroke-width="1.1"/>
<text transform="translate(1156.67,325.85) rotate(0.03) scale(1.0442,1.1299)" font-family="Liberation Sans, sans-serif" font-size="10" fill="#666">47,000</text>
<line x1="1151" x2="1154.3" y1="396.7" y2="396.7" stroke="#8c8c8c" stroke-width="1.1"/>
<text transform="translate(1156.67,399.70) rotate(0.03) scale(1.0442,1.1299)" font-family="Liberation Sans, sans-serif" font-size="10" fill="#666">46,000</text>
<line x1="1151" x2="1154.3" y1="508.5" y2="508.5" stroke="#8c8c8c" stroke-width="1.1"/>
<text transform="translate(1156.36,511.50) rotate(0.03) scale(1.0856,1.1299)" font-family="Liberation Sans, sans-serif" font-size="10" fill="#666">70</text>
<line x1="1151" x2="1154.3" y1="555.8000000000001" y2="555.8000000000001" stroke="#8c8c8c" stroke-width="1.1"/>
<text transform="translate(1156.50,558.80) rotate(0.03) scale(1.0725,1.1299)" font-family="Liberation Sans, sans-serif" font-size="10" fill="#666">30</text>
<line x1="48" x2="48" y1="598" y2="603.5" stroke="#909090" stroke-width="1.2"/>
<text transform="translate(37.63,614.00) rotate(0.03) scale(1.3000,1.1337)" font-family="Liberation Sans, sans-serif" font-size="10" fill="#666">Oct</text>
<line x1="242" x2="242" y1="598" y2="603.5" stroke="#909090" stroke-width="1.2"/>
<text transform="translate(230.53,614.00) rotate(0.03) scale(1.2349,1.1337)" font-family="Liberation Sans, sans-serif" font-size="10" fill="#666">Nov</text>
<line x1="420.5" x2="420.5" y1="598" y2="603.5" stroke="#909090" stroke-width="1.2"/>
<text transform="translate(408.69,614.00) rotate(0.03) scale(1.2874,1.1337)" font-family="Liberation Sans, sans-serif" font-size="10" fill="#666">Dec</text>
<line x1="800.5" x2="800.5" y1="598" y2="603.5" stroke="#909090" stroke-width="1.2"/>
<text transform="translate(789.74,614.00) rotate(0.03) scale(1.2188,1.1337)" font-family="Liberation Sans, sans-serif" font-size="10" fill="#666">Feb</text>
<line x1="972.6" x2="972.6" y1="598" y2="603.5" stroke="#909090" stroke-width="1.2"/>
<text transform="translate(961.47,614.00) rotate(0.03) scale(1.2431,1.1337)" font-family="Liberation Sans, sans-serif" font-size="10" fill="#666">Mar</text>
<line x1="614.5" x2="614.5" y1="598" y2="603.5" stroke="#808080" stroke-width="1.2"/>
<line x1="614.5" x2="614.5" y1="604" y2="616" stroke="#999" stroke-width="1" stroke-dasharray="1.5,1.5"/>
<text transform="translate(602.26,626.90) rotate(0.03) scale(1.0798,1.1299)" font-family="Liberation Sans, sans-serif" font-size="10" fill="#666">2026</text>
<path d="M1143.5,57.4 L1151.5,49.9 H1189 a2,2 0 0 1 2,2 V62.900000000000006 a2,2 0 0 1 -2,2 H1151.5 Z" fill="#ff8a1c"/>
<text transform="translate(1156.59,61.30) rotate(0.03) scale(1.0368,1.0876)" font-family="Liberation Sans, sans-serif" font-size="10" fill="#222">50,594</text>
<path d="M1143.5,135.6 L1151.5,128.1 H1189 a2,2 0 0 1 2,2 V141.1 a2,2 0 0 1 -2,2 H1151.5 Z" fill="#3dcccc"/>
<text transform="translate(1156.77,139.50) rotate(0.03) scale(1.0308,1.0876)" font-family="Liberation Sans, sans-serif" font-size="10" fill="#111">49,534</text>
<path d="M1143.5,213.8 L1151.5,206.3 H1189 a2,2 0 0 1 2,2 V219.3 a2,2 0 0 1 -2,2 H1151.5 Z" fill="#ff8a1c"/>
<text transform="translate(1156.77,217.70) rotate(0.03) scale(1.0377,1.0876)" font-family="Liberation Sans, sans-serif" font-size="10" fill="#222">48,472</text>
<path d="M1143.5,220.6 L1151.5,213.1 H1204 a2,2 0 0 1 2,2 V226.1 a2,2 0 0 1 -2,2 H1151.5 Z" fill="#5c5caa"/>
<text transform="translate(1156.76,224.50) rotate(0.03) scale(1.0484,1.0876)" font-family="Liberation Sans, sans-serif" font-size="10" fill="#fff">48,386.50</text>
<path d="M1143.5,546.4 L1151.5,538.9 H1168.6 a2,2 0 0 1 2,2 V551.9 a2,2 0 0 1 -2,2 H1151.5 Z" fill="#000"/>
<text transform="translate(1156.18,550.30) rotate(0.03) scale(1.1068,1.0876)" font-family="Liberation Sans, sans-serif" font-size="10" fill="#fff">38</text>
<text transform="translate(8.55,21.90) rotate(0.03) scale(1.2557,1.3081)" font-family="Liberation Sans, sans-serif" font-size="10" font-weight="bold" fill="#3a3a3a">Daily</text>
<text transform="translate(71.98,21.90) rotate(0.03) scale(1.2384,1.3081)" font-family="Liberation Sans, sans-serif" font-size="10" font-weight="bold" fill="#3a3a3a">Technical</text>
<text transform="translate(160.78,21.90) rotate(0.03) scale(1.2175,1.3081)" font-family="Liberation Sans, sans-serif" font-size="10" font-weight="bold" fill="#3a3a3a">Display</text>
<text transform="translate(237.32,21.90) rotate(0.03) scale(1.3027,1.3081)" font-family="Liberation Sans, sans-serif" font-size="10" font-weight="bold" fill="#3a3a3a">More</text>
<polygon points="43.5,16.2 53.5,16.2 48.5,21" fill="#444"/>
<polygon points="133,16.2 143,16.2 138,21" fill="#444"/>
<polygon points="209.2,16.2 219.2,16.2 214.2,21" fill="#444"/>
<polygon points="273,16.2 283,16.2 278,21" fill="#444"/>
<path d="M302.6,21.4 V12.5 a1,1 0 0 1 1,-1 h3 q.5,0 .9,.5 l.9,1 q.3,.3 .8,.3 h2.3 a.9,.9 0 0 1 .9,.9 v1.9" fill="none" stroke="#666" stroke-width="0.9"/>
<path d="M302.7,21.2 q.6,.9 1.6,.8" fill="none" stroke="#666" stroke-width="0.9"/>
<path d="M307.2,15.8 h7.8 q.7,0 .4,.7 l-2.1,4.8 q-.3,.6 -1,.6 h-7.6 q-.7,0 -.4,-.6 l2.1,-4.9 q.2,-.6 .8,-.6 Z" fill="#333"/>
<g><path d="M336.7,10.2 h8.2 q.6,0 1,.4 l2,2 q.4,.4 .4,1 v8.6 a1.5,1.5 0 0 1 -1.5,1.5 h-10.1 a1.5,1.5 0 0 1 -1.5,-1.5 v-10.5 a1.5,1.5 0 0 1 1.5,-1.5 Z" fill="#333"/><rect x="337" y="17" width="9.5" height="4.9" rx=".5" fill="#fff"/><rect x="338.5" y="11" width="6.8" height="3.7" rx=".4" fill="#fff"/><rect x="342.3" y="12" width="1.8" height="1.9" fill="#333"/></g>
<rect x="366.5" y="14.6" width="14.2" height="3.6" fill="#111"/>
<rect x="400.6" y="14.8" width="14.4" height="3.6" fill="#111"/><rect x="406" y="9.4" width="3.6" height="14.3" fill="#111"/>
<text transform="translate(12.40,63.40) rotate(0.03) scale(1.0412,1.0901)" font-family="Liberation Sans, sans-serif" font-size="10" font-weight="bold" fill="#333">WALL STREET, DAILY</text>
<text transform="translate(7.13,412.70) rotate(0.03) scale(0.9509,0.9884)" font-family="Liberation Sans, sans-serif" font-size="10" font-weight="bold" fill="#333">VWAP</text>
<text transform="translate(38.00,412.70) rotate(0.03) scale(1.0085,0.9746)" font-family="Liberation Sans, sans-serif" font-size="10" fill="#555">20 1 2 3</text>
<text transform="translate(117.96,412.70) rotate(0.03) scale(0.9583,0.9884)" font-family="Liberation Sans, sans-serif" font-size="10" font-weight="bold" fill="#333">AUTO TREND</text>
<text transform="translate(182.92,412.70) rotate(0.03) scale(1.0377,0.9746)" font-family="Liberation Sans, sans-serif" font-size="10" fill="#555">1 4 4</text>
<text transform="translate(6.89,490.40) rotate(0.03) scale(0.9055,0.9884)" font-family="Liberation Sans, sans-serif" font-size="10" font-weight="bold" fill="#333">RSI</text>
<text transform="translate(24.96,490.40) rotate(0.03) scale(0.9826,0.9746)" font-family="Liberation Sans, sans-serif" font-size="10" fill="#555">14</text>
<g transform="translate(85,410.4)"><circle r="3.3" fill="none" stroke="#999" stroke-width="2.2"/><rect x="-1.1" y="-5.6" width="2.2" height="2.4" fill="#999" transform="rotate(0)"/><rect x="-1.1" y="-5.6" width="2.2" height="2.4" fill="#999" transform="rotate(45)"/><rect x="-1.1" y="-5.6" width="2.2" height="2.4" fill="#999" transform="rotate(90)"/><rect x="-1.1" y="-5.6" width="2.2" height="2.4" fill="#999" transform="rotate(135)"/><rect x="-1.1" y="-5.6" width="2.2" height="2.4" fill="#999" transform="rotate(180)"/><rect x="-1.1" y="-5.6" width="2.2" height="2.4" fill="#999" transform="rotate(225)"/><rect x="-1.1" y="-5.6" width="2.2" height="2.4" fill="#999" transform="rotate(270)"/><rect x="-1.1" y="-5.6" width="2.2" height="2.4" fill="#999" transform="rotate(315)"/></g>
<g transform="translate(100.8,410.5)" stroke="#999" stroke-width="2.5"><line x1="-3.5" y1="-3.5" x2="3.5" y2="3.5"/><line x1="-3.5" y1="3.5" x2="3.5" y2="-3.5"/></g>
<g transform="translate(216,410.4)"><circle r="3.3" fill="none" stroke="#999" stroke-width="2.2"/><rect x="-1.1" y="-5.6" width="2.2" height="2.4" fill="#999" transform="rotate(0)"/><rect x="-1.1" y="-5.6" width="2.2" height="2.4" fill="#999" transform="rotate(45)"/><rect x="-1.1" y="-5.6" width="2.2" height="2.4" fill="#999" transform="rotate(90)"/><rect x="-1.1" y="-5.6" width="2.2" height="2.4" fill="#999" transform="rotate(135)"/><rect x="-1.1" y="-5.6" width="2.2" height="2.4" fill="#999" transform="rotate(180)"/><rect x="-1.1" y="-5.6" width="2.2" height="2.4" fill="#999" transform="rotate(225)"/><rect x="-1.1" y="-5.6" width="2.2" height="2.4" fill="#999" transform="rotate(270)"/><rect x="-1.1" y="-5.6" width="2.2" height="2.4" fill="#999" transform="rotate(315)"/></g>
<g transform="translate(232.4,410.5)" stroke="#999" stroke-width="2.5"><line x1="-3.5" y1="-3.5" x2="3.5" y2="3.5"/><line x1="-3.5" y1="3.5" x2="3.5" y2="-3.5"/></g>
<g transform="translate(46.4,488.1)"><circle r="3.3" fill="none" stroke="#999" stroke-width="2.2"/><rect x="-1.1" y="-5.6" width="2.2" height="2.4" fill="#999" transform="rotate(0)"/><rect x="-1.1" y="-5.6" width="2.2" height="2.4" fill="#999" transform="rotate(45)"/><rect x="-1.1" y="-5.6" width="2.2" height="2.4" fill="#999" transform="rotate(90)"/><rect x="-1.1" y="-5.6" width="2.2" height="2.4" fill="#999" transform="rotate(135)"/><rect x="-1.1" y="-5.6" width="2.2" height="2.4" fill="#999" transform="rotate(180)"/><rect x="-1.1" y="-5.6" width="2.2" height="2.4" fill="#999" transform="rotate(225)"/><rect x="-1.1" y="-5.6" width="2.2" height="2.4" fill="#999" transform="rotate(270)"/><rect x="-1.1" y="-5.6" width="2.2" height="2.4" fill="#999" transform="rotate(315)"/></g>
<g transform="translate(62.1,488.1)" stroke="#999" stroke-width="2.5"><line x1="-3.5" y1="-3.5" x2="3.5" y2="3.5"/><line x1="-3.5" y1="3.5" x2="3.5" y2="-3.5"/></g>
<g stroke="#777" stroke-width="1.1" fill="none"><line x1="83.8" y1="482.6" x2="83.8" y2="493"/><polyline points="78.6,487.8 83.8,482.6 89,487.8"/></g>
</svg>
</body></html>
